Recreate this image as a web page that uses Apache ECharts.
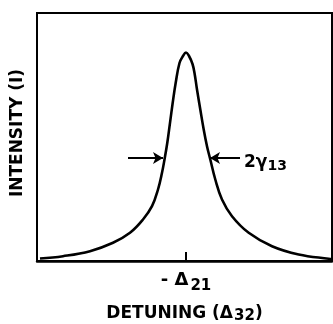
<!DOCTYPE html>
<html>
<head>
<meta charset="utf-8">
<script src="https://cdn.jsdelivr.net/npm/echarts@6/dist/echarts.min.js"></script>
<style>
  html, body { margin: 0; padding: 0; background: #fff; }
  #chart { width: 333px; height: 324px; }
</style>
</head>
<body>
<div id="chart"></div>
<script>
// detuning offset from -Δ21 (arbitrary units) and intensity
const detuning = [-146, -123, -96, -73, -56, -43, -34, -28, -24, -21.5, -18.7, -16, -13.3, -10.3, -6.5, -3, 0,
  3, 6.5, 8.5, 11, 14.3, 17.7, 21, 24.3, 29.3, 36, 46, 62.7, 86, 112.7, 142.7, 146];
const intensity = [2.5, 4.8, 9.8, 18.2, 28.2, 41.5, 54.8, 71.5, 88.2, 101.5, 118.2, 138.2, 158.2, 178.2, 198, 205, 208.5,
  205, 197, 188, 171.5, 151.5, 131.5, 114.8, 101.5, 81.5, 61.5, 44.8, 28.2, 14.8, 6.5, 2.2, 2];

// linewidth arrows at half maximum
const arrowLevel = 103;
const leftArrow = [-58, -23];
const rightArrow = [54, 24];
const xTicks = [0];

const font = 'DejaVu Sans';
const chart = echarts.init(document.getElementById('chart'), null, { renderer: 'canvas' });

const option = {
  animation: false,
  grid: {
    left: 37, right: 1, top: 13, bottom: 63,
    containLabel: false, outerBoundsMode: 'none',
    show: true, borderColor: '#000', borderWidth: 2, backgroundColor: 'transparent'
  },
  xAxis: {
    type: 'value', min: -149, max: 146,
    splitLine: { show: false },
    axisLine: { lineStyle: { color: '#000', width: 2.5 } },
    axisTick: { customValues: xTicks, inside: true, length: 9, lineStyle: { color: '#000', width: 2 } },
    axisLabel: {
      customValues: xTicks, margin: 10,
      formatter: () => '{d|- Δ}{s|21}',
      rich: {
        d: { fontFamily: font, fontWeight: 'bold', fontSize: 18, color: '#000', verticalAlign: 'top' },
        s: { fontFamily: font, fontWeight: 'bold', fontSize: 15, color: '#000', padding: [8, 0, 0, 2] }
      }
    },
    name: '{n|DETUNING (Δ}{s|32}{n|)}',
    nameLocation: 'middle', nameGap: 42,
    nameTextStyle: {
      rich: {
        n: { fontFamily: font, fontWeight: 'bold', fontSize: 17, color: '#000' },
        s: { fontFamily: font, fontWeight: 'bold', fontSize: 15, color: '#000', padding: [6, 0, 0, 1] }
      }
    }
  },
  yAxis: {
    type: 'value', min: 0, max: 248,
    splitLine: { show: false },
    axisLine: { show: true, onZero: false, lineStyle: { color: '#000', width: 2 } },
    axisTick: { show: false },
    axisLabel: { show: false },
    name: 'INTENSITY (I)',
    nameLocation: 'middle', nameGap: 11,
    nameTextStyle: { fontFamily: font, fontWeight: 'bold', fontSize: 17, color: '#000', padding: [0, 0, 0, 8] }
  },
  series: [{
    type: 'line',
    data: detuning.map((d, i) => [d, intensity[i]]),
    smooth: 0.4,
    showSymbol: false,
    lineStyle: { color: '#000', width: 2.6 },
    markLine: {
      silent: true,
      symbol: ['none', 'arrow'],
      symbolSize: [9, 10],
      lineStyle: { color: '#000', width: 2, type: 'solid' },
      data: [
        [{ coord: [leftArrow[0], arrowLevel] }, { coord: [leftArrow[1], arrowLevel] }],
        [{
          coord: [rightArrow[0], arrowLevel],
          label: {
            show: true, position: 'start', distance: 4, padding: [9, 0, 0, 0],
            formatter: '{n|2γ}{s|13}',
            rich: {
              n: { fontFamily: font, fontWeight: 'bold', fontSize: 17, color: '#000' },
              s: { fontFamily: font, fontWeight: 'bold', fontSize: 14, color: '#000', padding: [7, 0, 0, 0] }
            }
          }
        }, { coord: [rightArrow[1], arrowLevel] }]
      ],
      label: { show: false }
    }
  }]
};
chart.setOption(option);
</script>
</body>
</html>
